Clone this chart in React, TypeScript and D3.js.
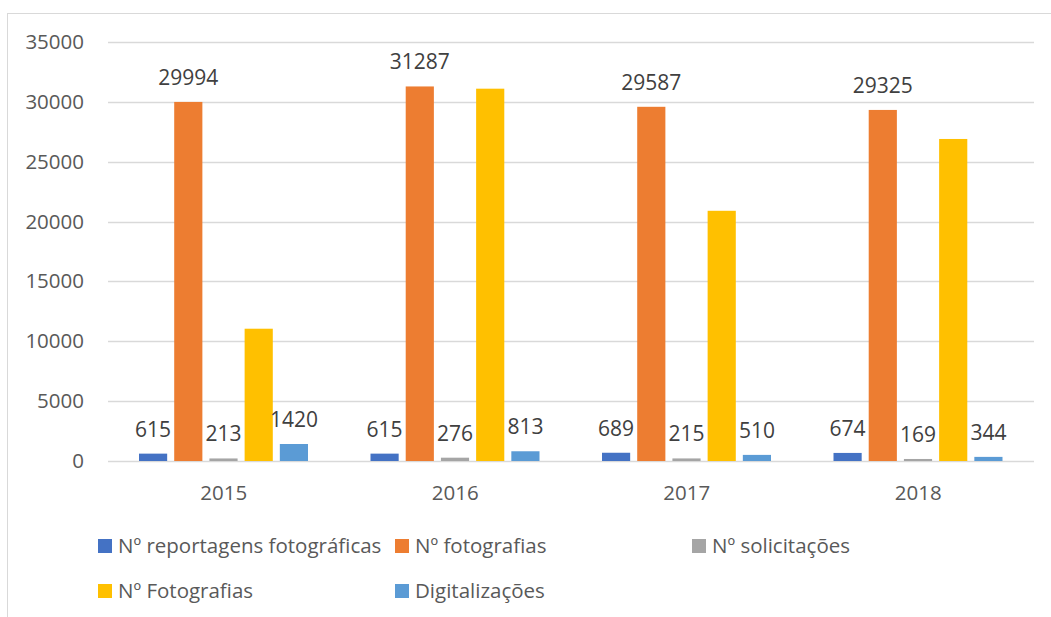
import React, { useRef, useEffect } from 'react';
import * as d3 from 'd3';

const years = ['2015', '2016', '2017', '2018'];
const seriesNames = [
  'Nº reportagens fotográficas',
  'Nº fotografias',
  'Nº solicitações',
  'Nº Fotografias',
  'Digitalizações',
];
const reportagens = [615, 615, 689, 674];
const fotografias = [29994, 31287, 29587, 29325];
const solicitacoes = [213, 276, 215, 169];
const fotografias2 = [11050, 31100, 20900, 26900];
const digitalizacoes = [1420, 813, 510, 344];
const yTicks = [0, 5000, 10000, 15000, 20000, 25000, 30000, 35000];

const colors = ['#4472c4', '#ed7d31', '#a5a5a5', '#ffc000', '#5b9bd5'];
const showLabel = [true, true, true, false, true];

const App = () => {
  const svgRef = useRef(null);

  useEffect(() => {
    const svg = d3.select(svgRef.current);
    svg.selectAll('*').remove();

    const width = 1051;
    const height = 617;
    const font = '"Open Sans", "Noto Sans", sans-serif';

    svg.attr('width', width).attr('height', height);

    // Outer chart border
    svg
      .append('rect')
      .attr('x', 7.5)
      .attr('y', 13.5)
      .attr('width', 1100)
      .attr('height', 700)
      .attr('fill', '#fff')
      .attr('stroke', '#d9d9d9');

    const allSeries = [reportagens, fotografias, solicitacoes, fotografias2, digitalizacoes];

    const x0 = d3.scaleBand().domain(years).range([108, 1034]).padding(0);
    const bw = x0.bandwidth();
    const x1 = d3
      .scaleBand()
      .domain(seriesNames.map((_, i) => String(i)))
      .range([31, bw - 31.5])
      .paddingInner(0.2)
      .paddingOuter(0);

    const y = d3.scaleLinear().domain([0, 35000]).range([461, 42]);

    // Gridlines
    svg
      .append('g')
      .selectAll('line')
      .data(yTicks)
      .enter()
      .append('line')
      .attr('x1', 108)
      .attr('x2', 1034)
      .attr('y1', (d) => Math.round(y(d)) + 0.5)
      .attr('y2', (d) => Math.round(y(d)) + 0.5)
      .attr('stroke', '#d9d9d9')
      .attr('stroke-width', 1.5);

    // Y tick labels
    svg
      .append('g')
      .selectAll('text')
      .data(yTicks)
      .enter()
      .append('text')
      .attr('x', 84)
      .attr('y', (d) => y(d) + 7)
      .attr('text-anchor', 'end')
      .attr('font-family', font)
      .attr('font-size', 20.5)
      .attr('fill', '#595959')
      .text((d) => d);

    // Bars
    allSeries.forEach((values, si) => {
      const g = svg.append('g');
      g.selectAll('rect')
        .data(values)
        .enter()
        .append('rect')
        .attr('x', (d, i) => x0(years[i]) + x1(String(si)))
        .attr('y', (d) => y(d))
        .attr('width', x1.bandwidth())
        .attr('height', (d) => y(0) - y(d))
        .attr('fill', colors[si]);

      if (showLabel[si]) {
        g.selectAll('text')
          .data(values)
          .enter()
          .append('text')
          .attr('x', (d, i) => x0(years[i]) + x1(String(si)) + x1.bandwidth() / 2)
          .attr('y', (d) => y(d) - 17)
          .attr('text-anchor', 'middle')
          .attr('font-family', font)
          .attr('font-size', 21)
          .attr('fill', '#404040')
          .text((d) => d);
      }
    });

    // X labels
    svg
      .append('g')
      .selectAll('text')
      .data(years)
      .enter()
      .append('text')
      .attr('x', (d) => x0(d) + bw / 2)
      .attr('y', 500)
      .attr('text-anchor', 'middle')
      .attr('font-family', font)
      .attr('font-size', 20.5)
      .attr('fill', '#595959')
      .text((d) => d);

    // Legend
    const legendPos = [
      [98, 539],
      [395, 539],
      [692, 539],
      [98, 584],
      [395, 584],
    ];
    const legend = svg
      .append('g')
      .selectAll('g')
      .data(seriesNames)
      .enter()
      .append('g')
      .attr('transform', (_, i) => `translate(${legendPos[i][0]}, ${legendPos[i][1]})`);

    legend
      .append('rect')
      .attr('width', 14)
      .attr('height', 14)
      .attr('fill', (_, i) => colors[i]);

    legend
      .append('text')
      .attr('x', 20)
      .attr('y', 14)
      .attr('font-family', font)
      .attr('font-size', 20.5)
      .attr('fill', '#595959')
      .text((d) => d);
  }, []);

  return <svg ref={svgRef} style={{ position: 'absolute', left: 0, top: 0 }} />;
};

export default App;
